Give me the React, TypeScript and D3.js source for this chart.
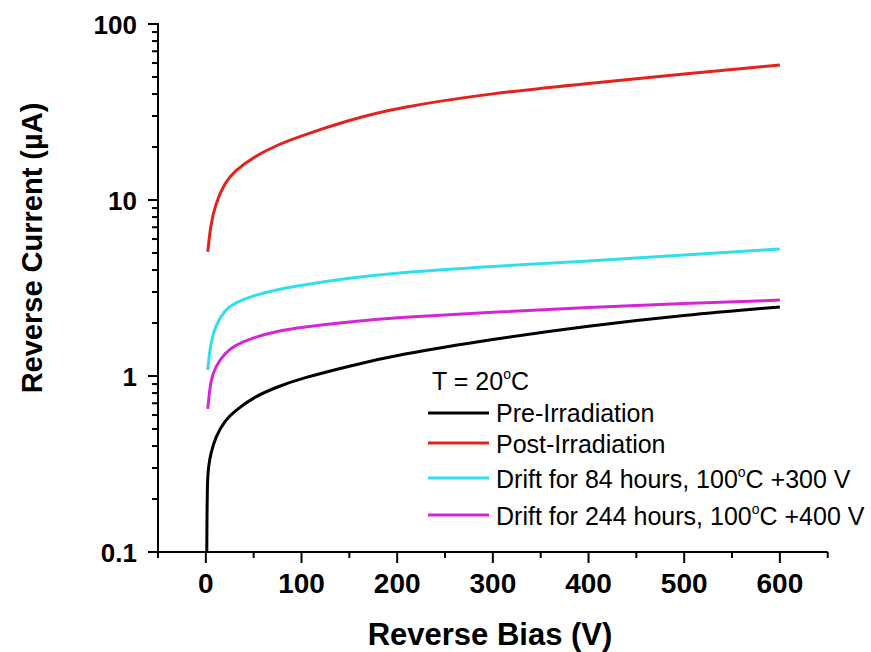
import React from "react";
import * as d3 from "d3";

const voltsPre = [1, 1.1, 1.3, 1.6, 2, 3, 5, 10, 20, 30, 50, 75, 100, 150, 200, 300, 400, 500, 600];
const currentPre = [0.1, 0.13, 0.18, 0.23, 0.27, 0.31, 0.36, 0.45, 0.56, 0.63, 0.76, 0.87, 0.97, 1.14, 1.32, 1.62, 1.93, 2.22, 2.47];

const volts = [2, 5, 10, 20, 30, 50, 75, 100, 150, 200, 300, 400, 500, 600];
const currentPost = [5.08, 7.2, 9.5, 12.6, 14.6, 17.6, 20.6, 23.2, 28.5, 33.5, 40.5, 46, 52, 58.5];
const currentDrift84 = [1.08, 1.55, 1.93, 2.38, 2.6, 2.87, 3.1, 3.28, 3.6, 3.87, 4.2, 4.5, 4.87, 5.27];
const currentDrift244 = [0.65, 0.95, 1.13, 1.35, 1.49, 1.66, 1.8, 1.89, 2.03, 2.15, 2.3, 2.46, 2.58, 2.7];

const xMajorTicks = [0, 100, 200, 300, 400, 500, 600];
const xMinorTicks = [-50, 50, 150, 250, 350, 450, 550, 650];
const yMajorTicks = [0.1, 1, 10, 100];
const yTickLabels = ["0.1", "1", "10", "100"];

const seriesNames = ["Pre-Irradiation", "Post-Irradiation", "Drift for 84 hours, 100", "Drift for 244 hours, 100"];
const seriesSuffix = ["", "", "C +300 V", "C +400 V"];
const seriesColors = ["#000000", "#e3221c", "#2fdfea", "#d526d6"];

export default function App() {
  const W = 871, H = 652;
  const x = d3.scaleLinear().domain([-50, 650]).range([158, 827.7]);
  const y = d3.scaleLog().domain([0.1, 100]).range([552, 24]);

  const line = d3
    .line<[number, number]>()
    .x((d) => x(d[0]))
    .y((d) => y(d[1]))
    .curve(d3.curveBasis);

  const series: [number, number][][] = [
    voltsPre.map((v, i) => [v, currentPre[i]]),
    volts.map((v, i) => [v, currentPost[i]]),
    volts.map((v, i) => [v, currentDrift84[i]]),
    volts.map((v, i) => [v, currentDrift244[i]]),
  ];

  const yMinor: number[] = [];
  for (const dec of [0.1, 1, 10]) for (let k = 2; k <= 9; k++) yMinor.push(dec * k);

  const font = "'Liberation Sans', Arial, sans-serif";
  const legendLineY = [413, 443, 478, 515];
  const legendTextY = [421.7, 453, 488, 525];

  return (
    <svg width={W} height={H} style={{ position: "absolute", left: 0, top: 0, background: "#fff" }} fontFamily={font}>
      <rect width={W} height={H} fill="#fff" />
      {/* axes */}
      <line x1={x(-50)} x2={x(650)} y1={552} y2={552} stroke="#000" strokeWidth={2} />
      <line x1={158} x2={158} y1={23} y2={553} stroke="#000" strokeWidth={2} />
      {xMajorTicks.map((t) => (
        <g key={"xm" + t}>
          <line x1={x(t)} x2={x(t)} y1={552} y2={563} stroke="#000" strokeWidth={2} />
          <text x={x(t)} y={593} textAnchor="middle" fontWeight="bold" fontSize={28}>
            {t}
          </text>
        </g>
      ))}
      {xMinorTicks.map((t) => (
        <line key={"xn" + t} x1={x(t)} x2={x(t)} y1={552} y2={558} stroke="#000" strokeWidth={2} />
      ))}
      {yMajorTicks.map((t, i) => (
        <g key={"ym" + t}>
          <line x1={148} x2={158} y1={y(t)} y2={y(t)} stroke="#000" strokeWidth={2} />
          <text x={137} y={y(t) + 9.5} textAnchor="end" fontWeight="bold" fontSize={26}>
            {yTickLabels[i]}
          </text>
        </g>
      ))}
      {yMinor.map((t) => (
        <line key={"yn" + t} x1={152} x2={158} y1={y(t)} y2={y(t)} stroke="#000" strokeWidth={2} />
      ))}
      {/* axis titles */}
      <text x={490} y={645} textAnchor="middle" fontWeight="bold" fontSize={31}>
        Reverse Bias (V)
      </text>
      <text
        transform={`translate(42,248) rotate(-90)`}
        textAnchor="middle"
        fontWeight="bold"
        fontSize={29}
      >
        Reverse Current (µA)
      </text>
      {/* data */}
      {series.map((s, i) => (
        <path key={"s" + i} d={line(s) || ""} fill="none" stroke={seriesColors[i]} strokeWidth={3} strokeLinejoin="round" />
      ))}
      {/* legend */}
      <text x={432} y={390} fontSize={25}>
        T = 20<tspan fontSize={14} dy={-11}>o</tspan>
        <tspan dy={11}>C</tspan>
      </text>
      {seriesNames.map((n, i) => (
        <g key={"lg" + i}>
          <line x1={428} x2={489} y1={legendLineY[i]} y2={legendLineY[i]} stroke={seriesColors[i]} strokeWidth={3} />
          <text x={496} y={legendTextY[i]} fontSize={25}>
            {n}
            {seriesSuffix[i] ? (
              <>
                <tspan fontSize={14} dy={-11}>o</tspan>
                <tspan dy={11}>{seriesSuffix[i]}</tspan>
              </>
            ) : null}
          </text>
        </g>
      ))}
    </svg>
  );
}
